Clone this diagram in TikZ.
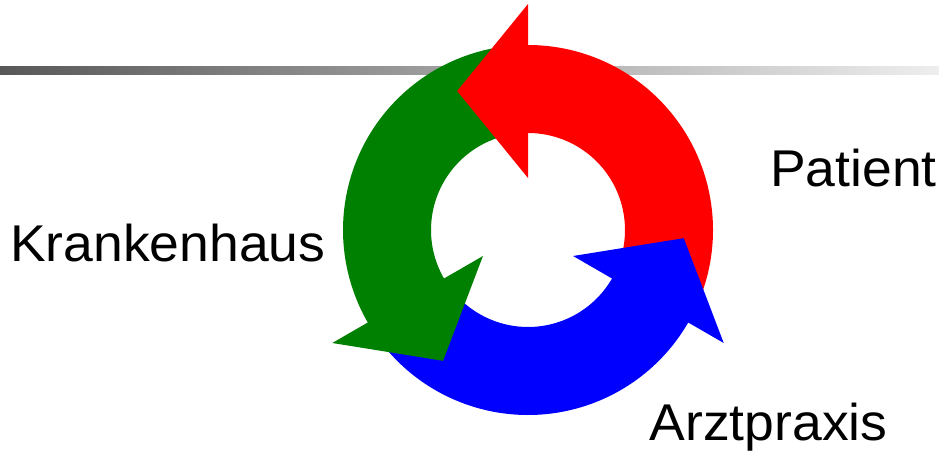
\documentclass[tikz,border=0pt]{standalone}
\usepackage{fontspec}
\setmainfont{Liberation Sans}
\definecolor{bardark}{RGB}{88,88,88}
\definecolor{barlight}{RGB}{238,238,238}
\definecolor{cred}{RGB}{255,0,0}
\definecolor{cgreen}{RGB}{0,128,0}
\definecolor{cblue}{RGB}{0,0,255}
\newcommand\cycshaft[2]{%
  \fill[#2, rotate=#1] (-20:97) -- (-20:185) arc[start angle=-20, end angle=92, radius=185]
    -- (92:97) arc[start angle=92, end angle=-20, radius=97] -- cycle;}
\newcommand\cychead[2]{%
  \fill[#2, rotate=#1] (90:52) -- (90:226) -- (117:156) -- cycle;}
\begin{document}
\begin{tikzpicture}[x=1pt,y=1pt,
  lbl/.style={inner sep=0pt, anchor=base west, xscale=1.035, font=\fontsize{51.7}{60}\selectfont}]
\useasboundingbox (0,0) rectangle (939,453);
\shade[left color=bardark, right color=barlight] (0,378) rectangle (939,386);
\begin{scope}[shift={(528,223)}]
  \coordinate (c) at (0,0);
  \cycshaft{0}{cred}
  \cycshaft{120}{cgreen}
  \cycshaft{240}{cblue}
  \cychead{0}{cred}
  \cychead{120}{cgreen}
  \cychead{240}{cblue}
\end{scope}
\node[lbl] (patient) at (770,266.3) {Patient};
\node[lbl] (krankenhaus) at (10,192) {Krankenhaus};
\node[lbl] (arztpraxis) at (649.5,12.3) {Arztpraxis};
\end{tikzpicture}
\end{document}
